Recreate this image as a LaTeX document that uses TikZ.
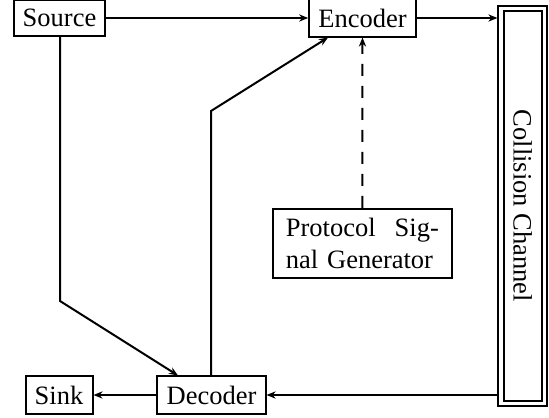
\documentclass[tikz,border=0pt]{standalone}
\usepackage{fontspec}
\setmainfont{Liberation Serif}
\usepackage{tikz}
\usetikzlibrary{calc,positioning,arrows.meta}

\begin{document}
\begin{tikzpicture}[x=0.5pt,y=-0.5pt,line width=1pt,
    >={Stealth[length=4.5pt,width=3.6pt,inset=1.4pt]},
    font=\fontsize{13.25}{16}\selectfont,
    blk/.style={draw,rectangle,inner sep=4.6pt},
    chan/.style={draw,rectangle,double,double distance=1.6pt,outer sep=1.8pt,
      minimum width=197.5pt,minimum height=21.75pt,inner sep=0pt}]
      \useasboundingbox (0,0) rectangle (549,417);

      \node [blk] (source) at (59.5, 18) {Source};
      \node [blk] (encoder) at (362.5, 18) {Encoder};
      \node [blk] (sink) at (59, 395) {Sink};
      \node [blk] (decoder) at (211.5, 395) {Decoder};
      \node [blk,text width=76.5pt,inner xsep=6.5pt,align=left] (psg) at (362.4, 243.5)
            {Protocol\hfill Sig-\\nal Generator};
      \node [chan,rotate=-90] (channel) at (522.75, 206) {Collision Channel};

      \coordinate (sbend) at (60, 301);
      \coordinate (dbend) at (211, 111);

      \draw [->] (source) -- (encoder);
      \draw [->] (encoder) -- (encoder -| channel.south);
      \draw [->] (decoder -| channel.south) -- (decoder);
      \draw [->] (decoder) -- (sink);

      \draw [->,dash pattern=on 6pt off 5pt] (psg) -- (encoder);

      \draw [->] (source.south -| sbend) -- (sbend) -- ([xshift=-16.75pt]decoder.north);
      \draw [->] (decoder.north -| dbend) -- (dbend) -- ([xshift=-17.25pt]encoder.south);
    \end{tikzpicture}
\end{document}
